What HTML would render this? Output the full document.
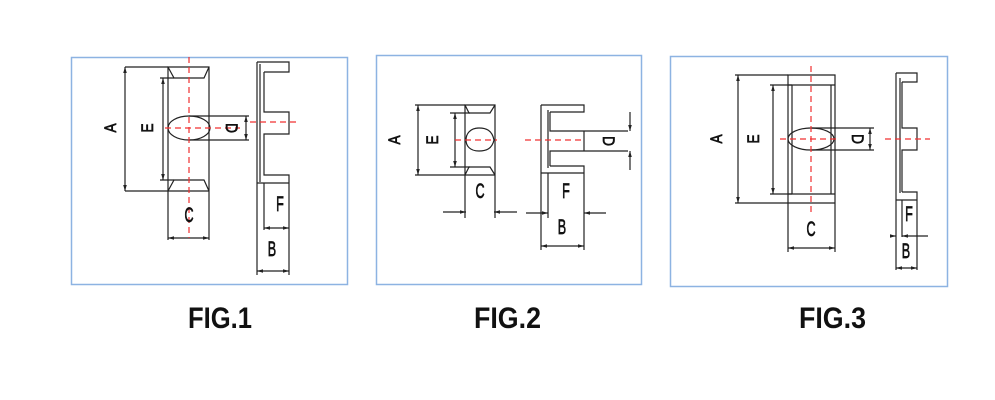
<!DOCTYPE html>
<html><head><meta charset="utf-8"><style>
html,body{margin:0;padding:0;background:#fff;width:995px;height:400px;overflow:hidden}
svg{display:block}
.l{stroke:#222;stroke-width:1.2;fill:none}
.r{stroke:#f03030;stroke-width:1.2;stroke-dasharray:6,4;fill:none}
.t{font-family:"Liberation Sans",sans-serif;font-size:21px;fill:#111;stroke:#111;stroke-width:0.7}
.v{font-family:"Liberation Sans",sans-serif;font-size:17px;fill:#111;stroke:#111;stroke-width:0.7}
.cap{font-family:"Liberation Sans",sans-serif;font-weight:bold;font-size:30px;fill:#111}
</style></head><body>
<svg width="995" height="400" viewBox="0 0 995 400" xmlns="http://www.w3.org/2000/svg">
<defs>
<marker id="a" viewBox="0 0 10 10" refX="10" refY="5" markerWidth="5" markerHeight="5" orient="auto-start-reverse"><path d="M0,2 L10,5 L0,8z" fill="#222"/></marker>
</defs>
<rect x="71.5" y="57.5" width="276" height="227" fill="none" stroke="#8db3e2" stroke-width="1.5"/>
<rect x="376.5" y="55.5" width="265" height="229" fill="none" stroke="#8db3e2" stroke-width="1.5"/>
<rect x="670.5" y="56.5" width="277" height="230" fill="none" stroke="#8db3e2" stroke-width="1.5"/>

<!-- FIG1 -->
<g>
<path class="l" d="M168 67H209V191H168Z M168 191V240 M209 191V240 M168 67L174 78H204L209 67 M168 191L174 180H204L209 191"/>
<path class="l" d="M125 67H168 M125 191H168 M160 78H174 M160 180H174"/>
<line class="l" x1="125" y1="67" x2="125" y2="191" marker-start="url(#a)" marker-end="url(#a)"/>
<line class="l" x1="163" y1="78" x2="163" y2="180" marker-start="url(#a)" marker-end="url(#a)"/>
<ellipse class="l" cx="189" cy="128" rx="21" ry="12"/>
<path class="l" d="M189 116H249 M189 140H249"/>
<line class="l" x1="246" y1="116" x2="246" y2="140" marker-start="url(#a)" marker-end="url(#a)"/>
<line class="l" x1="168" y1="238" x2="209" y2="238" marker-start="url(#a)" marker-end="url(#a)"/>
<path class="r" d="M189 57V238 M165 128H240"/>
<text class="v" transform="translate(116,128) rotate(-90) scale(0.8,1)" text-anchor="middle">A</text>
<text class="v" transform="translate(153,128) rotate(-90) scale(0.8,1)" text-anchor="middle">E</text>
<text class="v" transform="translate(226,128) rotate(90) scale(0.8,1)" text-anchor="middle">D</text>
<text class="t" transform="translate(189,222) scale(0.6,1)" text-anchor="middle">C</text>
<path class="l" d="M257 62H289V72H264 M257 62V183 M260 64V182 M264 72V112H289V134H264V175H289V183H257 M257 183V275 M289 183V275 M264 183V230"/>
<path class="r" d="M250 122H296"/>
<line class="l" x1="264" y1="228" x2="289" y2="228" marker-start="url(#a)" marker-end="url(#a)"/>
<line class="l" x1="257" y1="271" x2="289" y2="271" marker-start="url(#a)" marker-end="url(#a)"/>
<text class="t" transform="translate(280,211) scale(0.6,1)" text-anchor="middle">F</text>
<text class="t" transform="translate(272,256) scale(0.6,1)" text-anchor="middle">B</text>
</g>

<!-- FIG2 -->
<g>
<path class="l" d="M465 105H495V175H465Z M465 175V218 M495 175V218 M465 105L469 113H490L495 105 M465 175L469 167H490L495 175"/>
<path class="l" d="M415 105H465 M415 175H465 M450 113H470 M450 167H470"/>
<line class="l" x1="418" y1="105" x2="418" y2="175" marker-start="url(#a)" marker-end="url(#a)"/>
<line class="l" x1="455" y1="113" x2="455" y2="167" marker-start="url(#a)" marker-end="url(#a)"/>
<path class="l" d="M494 140C492 130 486 128 479 128C470 128 466 134 466 140C466 146 470 151 479 151C486 151 492 149 494 140Z"/>
<path class="r" d="M455 140H497"/>
<line class="l" x1="443" y1="212" x2="466" y2="212" marker-end="url(#a)"/>
<line class="l" x1="517" y1="212" x2="494" y2="212" marker-end="url(#a)"/>
<text class="v" transform="translate(400,140) rotate(-90) scale(0.8,1)" text-anchor="middle">A</text>
<text class="v" transform="translate(438,140) rotate(-90) scale(0.8,1)" text-anchor="middle">E</text>
<text class="t" transform="translate(480,198) scale(0.6,1)" text-anchor="middle">C</text>
<path class="l" d="M541 105H584V112H550 M541 105V173H584V166H550 M548 110V168 M550 112V131H584V151H550V166 M541 173V250 M584 173V250 M548 173V218 M584 131H628 M584 151H628 M584 131V151"/>
<path class="r" d="M525 140H585"/>
<line class="l" x1="630" y1="112" x2="630" y2="131" marker-end="url(#a)"/>
<line class="l" x1="630" y1="170" x2="630" y2="151" marker-end="url(#a)"/>
<line class="l" x1="526" y1="213" x2="548" y2="213" marker-end="url(#a)"/>
<line class="l" x1="606" y1="213" x2="584" y2="213" marker-end="url(#a)"/>
<line class="l" x1="541" y1="246" x2="584" y2="246" marker-start="url(#a)" marker-end="url(#a)"/>
<text class="v" transform="translate(603,141) rotate(90) scale(0.8,1)" text-anchor="middle">D</text>
<text class="t" transform="translate(566,198) scale(0.6,1)" text-anchor="middle">F</text>
<text class="t" transform="translate(562,234) scale(0.6,1)" text-anchor="middle">B</text>
</g>

<!-- FIG3 -->
<g>
<path class="l" d="M788 75H835V203H788Z M788 203V252 M835 203V252 M788 85H835 M788 194H835 M792 85V194 M831 85V194"/>
<path class="l" d="M735 75H788 M735 203H788 M770 85H792 M770 194H792"/>
<line class="l" x1="738" y1="75" x2="738" y2="203" marker-start="url(#a)" marker-end="url(#a)"/>
<line class="l" x1="773" y1="85" x2="773" y2="194" marker-start="url(#a)" marker-end="url(#a)"/>
<ellipse class="l" cx="811" cy="139" rx="23" ry="11"/>
<path class="l" d="M811 128H874 M811 150H874"/>
<line class="l" x1="870" y1="128" x2="870" y2="150" marker-start="url(#a)" marker-end="url(#a)"/>
<line class="l" x1="788" y1="248" x2="835" y2="248" marker-start="url(#a)" marker-end="url(#a)"/>
<path class="r" d="M811 66V212 M780 139H836"/>
<text class="v" transform="translate(722,139) rotate(-90) scale(0.8,1)" text-anchor="middle">A</text>
<text class="v" transform="translate(759,139) rotate(-90) scale(0.8,1)" text-anchor="middle">E</text>
<text class="v" transform="translate(852,139) rotate(90) scale(0.8,1)" text-anchor="middle">D</text>
<text class="t" transform="translate(811,236) scale(0.6,1)" text-anchor="middle">C</text>
<path class="l" d="M896 73H917V82H902 M896 73V200H917V192H902 M900 78V193 M902 82V128H917V150H902V192 M896 200V270 M917 200V270 M902 200V237"/>
<path class="r" d="M885 139H930"/>
<line class="l" x1="890" y1="236" x2="896" y2="236" marker-end="url(#a)"/>
<line class="l" x1="928" y1="236" x2="902" y2="236" marker-end="url(#a)"/>
<line class="l" x1="896" y1="268" x2="917" y2="268" marker-start="url(#a)" marker-end="url(#a)"/>
<text class="t" transform="translate(909,221) scale(0.6,1)" text-anchor="middle">F</text>
<text class="t" transform="translate(906,258) scale(0.6,1)" text-anchor="middle">B</text>
</g>

<text class="cap" x="188" y="328" textLength="64" lengthAdjust="spacingAndGlyphs">FIG.1</text>
<text class="cap" x="474" y="328" textLength="67" lengthAdjust="spacingAndGlyphs">FIG.2</text>
<text class="cap" x="799" y="328" textLength="67" lengthAdjust="spacingAndGlyphs">FIG.3</text>
</svg>
</body></html>
